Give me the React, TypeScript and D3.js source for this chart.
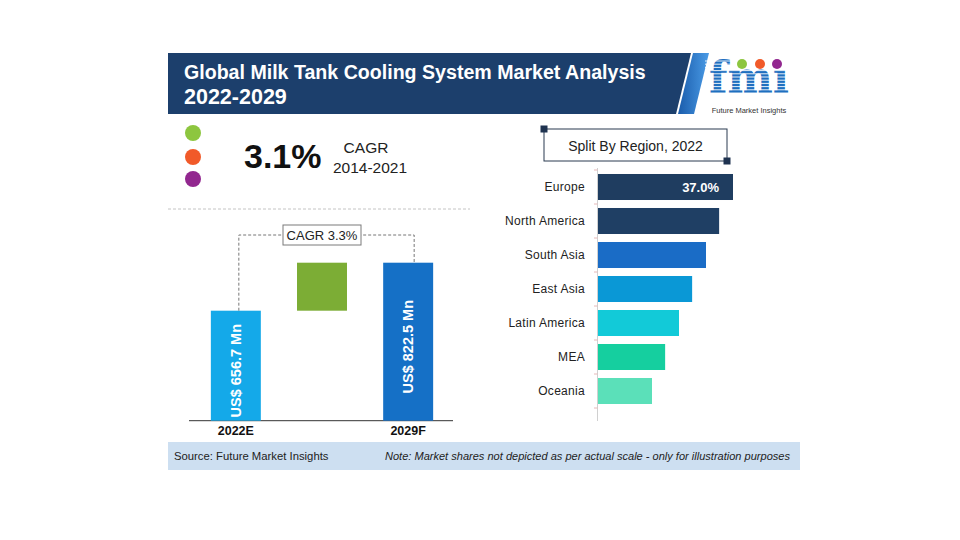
import React from "react";
import * as d3 from "d3";

const regions = ["Europe", "North America", "South Asia", "East Asia", "Latin America", "MEA", "Oceania"];
const regionShares = [37.0, 33.2, 29.6, 25.8, 22.2, 18.4, 14.8];
const regionColors = ["#1f3d60", "#1f3f64", "#1a6cc6", "#0a98d6", "#12cad8", "#15cf9f", "#5be0b9"];

const marketYears = ["2022E", "CAGR", "2029F"];
const marketValues = [656.7, 822.5];
const marketLabels = ["US$ 656.7 Mn", "US$ 822.5 Mn"];
const marketColors = ["#14a9e9", "#1570c6"];
const growthColor = "#7cad35";

const cagrHistoric = "3.1%";
const cagrPeriod = "2014-2021";
const cagrForecast = "CAGR 3.3%";

const FONT = "'Liberation Sans', Arial, sans-serif";

export default function App() {
  const yR = d3.scaleBand<string>().domain(regions).range([170, 408]).paddingInner(0.235).paddingOuter(0.1175);
  const xR = d3.scaleLinear().domain([0, 37]).range([598, 733]);

  const xW = d3.scaleBand<string>().domain(marketYears).range([190, 454]).paddingInner(0.42).paddingOuter(0.242);
  const yW = d3.scaleLinear().domain([276.7, 822.5]).range([420.7, 262.7]);
  const base = yW(276.7);

  const c0 = (xW("2022E") as number) + xW.bandwidth() / 2;
  const c2 = (xW("2029F") as number) + xW.bandwidth() / 2;
  const cm = (xW("CAGR") as number) + xW.bandwidth() / 2;
  const connY = 235;

  const ticks = d3.range(regions.length + 1).map((i) => (yR(regions[0]) as number) - yR.step() * yR.paddingInner() / 2 + i * yR.step());

  const stripes = d3.range(61, 95, 3.2);

  return (
    <svg width={960} height={540} style={{ position: "absolute", left: 0, top: 0, background: "#fff" }} fontFamily={FONT}>
      <rect x={0} y={0} width={960} height={540} fill="#fff" />
      {/* Header */}
      <polygon points="168,53 691,53 676,114 168,114" fill="#1c3f6c" />
      <defs>
        <linearGradient id="slash" x1="0" y1="0" x2="1" y2="0">
          <stop offset="0%" stopColor="#1a5cab" />
          <stop offset="100%" stopColor="#4a9be6" />
        </linearGradient>
      </defs>
      <polygon points="693,53 709,53 694,114 678,114" fill="url(#slash)" />
      <text x={184} y={79} fill="#fff" fontWeight="bold" fontSize={19.6}>Global Milk Tank Cooling System Market Analysis</text>
      <text x={184} y={104} fill="#fff" fontWeight="bold" fontSize={21.5}>2022-2029</text>

      {/* Logo */}
      <g>
        <text x={709} y={93} fill="#1f6fbf" fontWeight="bold" fontSize={44} fontFamily="'DejaVu Serif', serif" textLength={80} lengthAdjust="spacingAndGlyphs">fmı</text>
        {stripes.map((s, i) => (
          <line key={i} x1={705} x2={795} y1={s} y2={s} stroke="#fff" strokeWidth={0.9} />
        ))}
        <circle cx={742} cy={64} r={5} fill="#8dc63f" />
        <circle cx={760} cy={64} r={5} fill="#f15a29" />
        <circle cx={777} cy={64} r={5} fill="#92278f" />
        <text x={749} y={112.5} fontSize={7.5} fill="#333" textAnchor="middle">Future Market Insights</text>
      </g>

      {/* Left top KPI */}
      <circle cx={193} cy={133} r={8} fill="#8dc63f" />
      <circle cx={193} cy={157} r={8} fill="#f15a29" />
      <circle cx={193} cy={179} r={8} fill="#92278f" />
      <text x={244} y={168} fontSize={34} fontWeight="bold" fill="#111">{cagrHistoric}</text>
      <text x={366} y={153} fontSize={15.5} fill="#222" textAnchor="middle">CAGR</text>
      <text x={370} y={173} fontSize={15.5} fill="#222" textAnchor="middle">{cagrPeriod}</text>
      <line x1={168} x2={470} y1={209} y2={209} stroke="#c4c4c4" strokeDasharray="3,2" />

      {/* Waterfall */}
      <line x1={189} x2={453} y1={base} y2={base} stroke="#333" strokeWidth={1} />
      {[0, 1].map((i) => {
        const key = i === 0 ? "2022E" : "2029F";
        const x = xW(key) as number;
        const top = yW(marketValues[i]);
        const cx = x + xW.bandwidth() / 2;
        const cy = (top + base) / 2 + 5;
        return (
          <g key={key}>
            <rect x={x} y={top} width={xW.bandwidth()} height={base - top} fill={marketColors[i]} />
            <text transform={`translate(${cx + 5},${cy}) rotate(-90)`} textAnchor="middle" fill="#fff" fontWeight="bold" fontSize={14.5}>{marketLabels[i]}</text>
            <text x={cx} y={435} textAnchor="middle" fontWeight="bold" fontSize={12.5} fill="#111">{key}</text>
          </g>
        );
      })}
      <rect x={xW("CAGR") as number} y={yW(marketValues[1])} width={xW.bandwidth()} height={yW(marketValues[0]) - yW(marketValues[1])} fill={growthColor} />
      <path d={`M${c0 + 3},${yW(marketValues[0])} V${connY} H${c2 + 6} V${yW(marketValues[1])}`} fill="none" stroke="#777" strokeDasharray="3,2" />
      <rect x={cm - 39} y={225} width={78} height={20} fill="#fff" stroke="#7a7a7a" />
      <text x={cm} y={239.5} textAnchor="middle" fontSize={13} fill="#222">{cagrForecast}</text>

      {/* Region split */}
      <rect x={544} y={129} width={183} height={32} fill="#fff" stroke="#2a3b50" strokeWidth={1} />
      <rect x={540.5} y={125.5} width={7} height={7} fill="#1f3350" />
      <rect x={723.5} y={157.5} width={7} height={7} fill="#1f3350" />
      <text x={635.5} y={150.5} textAnchor="middle" fontSize={14} fill="#222">Split By Region, 2022</text>

      <line x1={597.5} x2={597.5} y1={168} y2={421} stroke="#d0d0d0" />
      {ticks.map((t, i) => (
        <line key={i} x1={594} x2={597.5} y1={t} y2={t} stroke="#e6b8b8" />
      ))}
      {regions.map((r, i) => {
        const y = yR(r) as number;
        return (
          <g key={r}>
            <rect x={xR(0)} y={y} width={xR(regionShares[i]) - xR(0)} height={yR.bandwidth()} fill={regionColors[i]} />
            <text x={585} y={y + yR.bandwidth() / 2 + 4.2} textAnchor="end" fontSize={12} fill="#222" letterSpacing={0.3}>{r}</text>
          </g>
        );
      })}
      <text x={xR(regionShares[0]) - 14} y={(yR(regions[0]) as number) + yR.bandwidth() / 2 + 4.5} textAnchor="end" fontWeight="bold" fontSize={13} fill="#fff">{regionShares[0].toFixed(1)}%</text>

      {/* Footer */}
      <rect x={168} y={442} width={632} height={28} fill="#cddff1" />
      <text x={174} y={460} fontSize={11.3} fill="#222">Source: Future Market Insights</text>
      <text x={385} y={460} fontSize={11} fontStyle="italic" fill="#222" textLength={405} lengthAdjust="spacingAndGlyphs">Note: Market shares not depicted as per actual scale - only for illustration purposes</text>
    </svg>
  );
}
